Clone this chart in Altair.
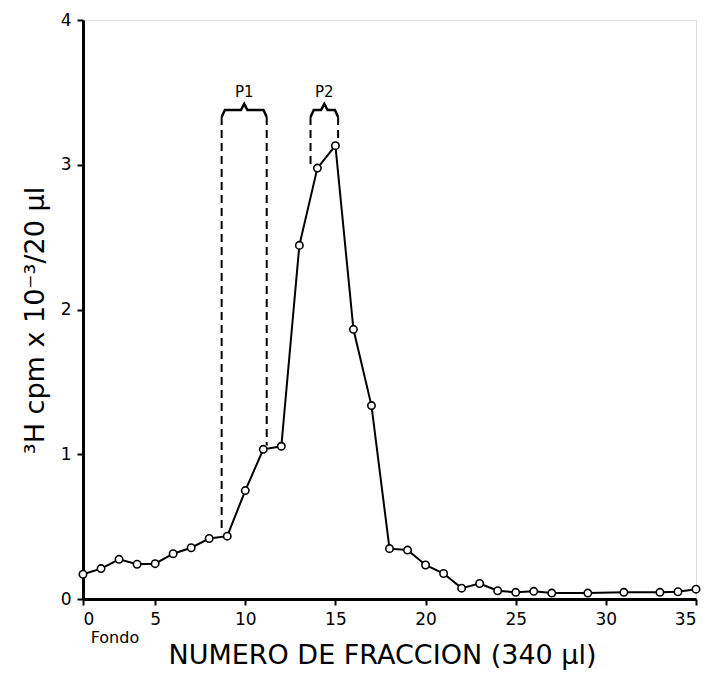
import altair as alt
import pandas as pd

# Fraction numbers and 3H cpm x 10^-3 / 20 ul
fractions = [1, 2, 3, 4, 5, 6, 7, 8, 9, 10, 11, 12, 13, 14, 15, 16, 17, 18, 19, 20,
             21, 22, 23, 24, 25, 26, 27, 29, 31, 33, 34, 35]
cpm = [0.171, 0.21, 0.274, 0.24, 0.244, 0.313, 0.354, 0.418, 0.434, 0.749, 1.034, 1.055,
       2.443, 2.977, 3.132, 1.863, 1.336, 0.348, 0.338, 0.235, 0.176, 0.075, 0.107, 0.057,
       0.046, 0.053, 0.041, 0.041, 0.046, 0.046, 0.05, 0.068]

x_ticks = [1, 5, 10, 15, 20, 25, 30, 35]
y_ticks = [0, 1, 2, 3, 4]

# Pooled peaks (brackets)
peak_names = ["P1", "P2"]
peak_left = [8.69, 13.62]
peak_right = [11.19, 15.15]
peak_bottom_left = [0.47, 3.0]
peak_bottom_right = [1.06, 3.15]
brace_y = 3.378
brace_end_y = 3.33
brace_tip_y = 3.42
label_y = 3.505

FONT = "DejaVu Sans"

df = pd.DataFrame({"fraction": fractions, "cpm": cpm})

x_scale = alt.Scale(domain=[1, 35], nice=False, zero=False)
y_scale = alt.Scale(domain=[0, 4], nice=False)

x_axis = alt.Axis(
    values=x_ticks,
    labelExpr="datum.value == 1 ? '0' : datum.label",
    title="NUMERO DE FRACCION (340 μl)",
    titleFont=FONT, titleFontSize=27, titleFontWeight="normal", titleColor="black",
    titleX=299, titleY=56, titleBaseline="middle", titleAnchor="middle",
    labelFont=FONT, labelFontSize=17, labelColor="black", labelPadding=6,
    tickSize=6, tickColor="black", tickWidth=2,
    domainColor="black", domainWidth=3, grid=False,
)
y_axis = alt.Axis(
    values=y_ticks, format="d",
    title="³H cpm x 10⁻³/20 μl",
    titleFont=FONT, titleFontSize=27, titleFontWeight="normal", titleColor="black",
    titleX=-48, titleY=300, titleBaseline="middle", titleAngle=-90,
    labelFont=FONT, labelFontSize=17, labelColor="black", labelPadding=6,
    tickSize=6, tickColor="black", tickWidth=2,
    domainColor="black", domainWidth=3, grid=False,
)

line = alt.Chart(df).mark_line(color="black", strokeWidth=2).encode(
    x=alt.X("fraction:Q", scale=x_scale, axis=x_axis),
    y=alt.Y("cpm:Q", scale=y_scale, axis=y_axis),
)
points = alt.Chart(df).mark_point(
    shape="circle", size=55, filled=True, fill="white", stroke="black", strokeWidth=1.6, opacity=1
).encode(x=alt.X("fraction:Q", scale=x_scale), y=alt.Y("cpm:Q", scale=y_scale))

# dashed verticals of the brackets
vert_rows = []
for i, n in enumerate(peak_names):
    vert_rows.append({"peak": n, "side": "L", "x": peak_left[i], "y1": brace_end_y, "y2": peak_bottom_left[i]})
    vert_rows.append({"peak": n, "side": "R", "x": peak_right[i], "y1": brace_end_y, "y2": peak_bottom_right[i]})
verts = alt.Chart(pd.DataFrame(vert_rows)).mark_rule(
    color="black", strokeWidth=2, strokeDash=[8, 5]
).encode(x=alt.X("x:Q", scale=x_scale), y=alt.Y("y1:Q", scale=y_scale), y2="y2:Q")

# curly braces
brace_rows = []
for i, n in enumerate(peak_names):
    L, R = peak_left[i], peak_right[i]
    M = (L + R) / 2
    pts = [(L, brace_end_y), (L + 0.18, brace_y), (M - 0.18, brace_y), (M, brace_tip_y),
           (M + 0.18, brace_y), (R - 0.18, brace_y), (R, brace_end_y)]
    for k, (bx, by) in enumerate(pts):
        brace_rows.append({"peak": n, "order": k, "x": bx, "y": by})
braces = alt.Chart(pd.DataFrame(brace_rows)).mark_line(color="black", strokeWidth=2.5).encode(
    x=alt.X("x:Q", scale=x_scale), y=alt.Y("y:Q", scale=y_scale),
    detail="peak:N", order="order:Q",
)

labels_df = pd.DataFrame({
    "peak": peak_names,
    "x": [(l + r) / 2 for l, r in zip(peak_left, peak_right)],
    "y": [label_y, label_y],
})
peak_labels = alt.Chart(labels_df).mark_text(
    font=FONT, fontSize=15, color="black", baseline="middle"
).encode(x=alt.X("x:Q", scale=x_scale), y=alt.Y("y:Q", scale=y_scale), text="peak:N")

fondo = alt.Chart(pd.DataFrame({"t": ["Fondo"], "x": [2.77]})).mark_text(
    font=FONT, fontSize=16, color="black", baseline="middle"
).encode(x=alt.X("x:Q", scale=x_scale), y=alt.value(618), text="t:N")

chart = alt.layer(line, points, verts, braces, peak_labels, fondo).properties(
    width=613, height=579,
    autosize=alt.AutoSizeParams(type="none"),
    padding={"left": 75, "top": 12, "right": 10, "bottom": 75},
).configure_view(stroke="black", strokeWidth=2.5).configure(background="white")

chart.save("out.html", embed_options={"renderer": "svg", "actions": False})
